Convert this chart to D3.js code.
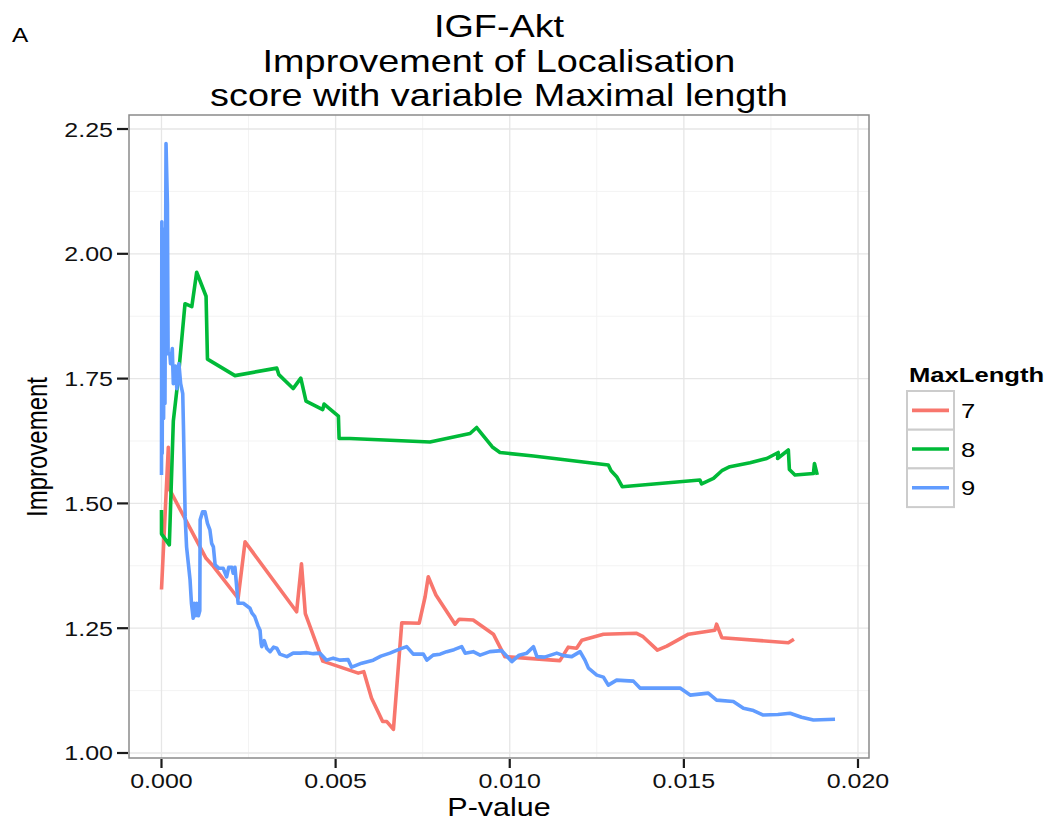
<!DOCTYPE html>
<html>
<head>
<meta charset="utf-8">
<script src="https://cdn.jsdelivr.net/npm/d3@7"></script>
<style>
  html, body { margin: 0; padding: 0; background: #fff; }
  svg { display: block; }
  text { font-family: "Liberation Sans", Arial, Helvetica, sans-serif; }
</style>
</head>
<body>
<svg id="chart" width="1053" height="823"></svg>
<script>
// ---------------- DATA ----------------
const seriesNames = ["7", "8", "9"];
const seriesColors = ["#F8766D", "#00BA38", "#619CFF"];

const xTicks = [0, 0.005, 0.010, 0.015, 0.020];
const xTickLabels = ["0.000", "0.005", "0.010", "0.015", "0.020"];
const yTicks = [1.00, 1.25, 1.50, 1.75, 2.00, 2.25];
const yTickLabels = ["1.00", "1.25", "1.50", "1.75", "2.00", "2.25"];
const xMinor = [0.0025, 0.0075, 0.0125, 0.0175];
const yMinor = [1.125, 1.375, 1.625, 1.875, 2.125];

const titleLines = ["IGF-Akt", "Improvement of Localisation", "score with variable Maximal length"];
const xTitle = "P-value";
const yTitle = "Improvement";
const legendTitle = "MaxLength";
const panelTag = "A";

// MaxLength 7 : [P-value, Improvement]
const series7 = [
  [0, 1.3275], [0.000196, 1.6125], [0.000215, 1.530], [0.00128, 1.390], [0.00149, 1.374],
  [0.00220, 1.310], [0.00240, 1.423], [0.00388, 1.283], [0.00402, 1.379], [0.00413, 1.279],
  [0.00463, 1.184], [0.00565, 1.160], [0.00581, 1.163], [0.00603, 1.110], [0.00635, 1.063],
  [0.00647, 1.063], [0.00666, 1.0475], [0.00690, 1.261], [0.00740, 1.260], [0.00757, 1.313],
  [0.00766, 1.353], [0.00788, 1.3165], [0.00843, 1.258], [0.00855, 1.268], [0.00895, 1.2665],
  [0.00953, 1.238], [0.00986, 1.193], [0.01144, 1.185], [0.01168, 1.212], [0.01192, 1.210],
  [0.01207, 1.226], [0.01269, 1.238], [0.01363, 1.240], [0.01383, 1.233], [0.01424, 1.206],
  [0.01451, 1.214], [0.01513, 1.238], [0.01589, 1.246], [0.01594, 1.258], [0.01609, 1.231],
  [0.01800, 1.221], [0.01816, 1.228]
];

// MaxLength 8
const series8 = [
  [0, 1.487], [0, 1.439], [0.000225, 1.417], [0.00034, 1.665], [0.00048, 1.751],
  [0.000675, 1.900], [0.00087, 1.894], [0.00101, 1.963], [0.00128, 1.915], [0.00132, 1.789],
  [0.00211, 1.756], [0.00331, 1.771], [0.00337, 1.758], [0.00378, 1.730], [0.00400, 1.751],
  [0.00415, 1.705], [0.00463, 1.688], [0.00467, 1.699], [0.00484, 1.689], [0.00508, 1.675],
  [0.00510, 1.630], [0.00541, 1.630], [0.00771, 1.623], [0.00886, 1.640], [0.00905, 1.652],
  [0.00950, 1.613], [0.00972, 1.602], [0.01068, 1.595], [0.01283, 1.577], [0.01291, 1.5655],
  [0.01307, 1.5535], [0.01323, 1.5335], [0.01546, 1.547], [0.01551, 1.539], [0.01585, 1.550],
  [0.01609, 1.5655], [0.01632, 1.5735], [0.01690, 1.5815], [0.01738, 1.590], [0.01771, 1.602],
  [0.01769, 1.590], [0.01800, 1.607], [0.01803, 1.568], [0.01819, 1.557], [0.01872, 1.560],
  [0.01875, 1.580], [0.01883, 1.557]
];

// MaxLength 9
const series9 = [
  [0, 1.557], [0.00001, 2.064], [0.00002, 1.600], [0.00004, 2.050], [0.00006, 1.670],
  [0.00008, 1.900], [0.00010, 1.700], [0.00013, 2.221], [0.00017, 2.100], [0.00019, 1.800],
  [0.00024, 1.800], [0.00026, 1.780], [0.00031, 1.810], [0.00034, 1.740], [0.00040, 1.775],
  [0.00044, 1.730], [0.00050, 1.780], [0.00055, 1.740], [0.00061, 1.720], [0.00063, 1.656],
  [0.00068, 1.473], [0.00072, 1.413], [0.00077, 1.380], [0.00082, 1.347], [0.00086, 1.300],
  [0.00091, 1.270], [0.00094, 1.300], [0.00098, 1.275], [0.00101, 1.300], [0.00106, 1.275],
  [0.00110, 1.285], [0.00111, 1.467], [0.00118, 1.483], [0.00125, 1.483], [0.00132, 1.460],
  [0.00139, 1.447], [0.00144, 1.420], [0.00149, 1.413], [0.00154, 1.377], [0.00165, 1.370],
  [0.00177, 1.370], [0.00187, 1.353], [0.00193, 1.372], [0.00202, 1.372], [0.00206, 1.360],
  [0.00211, 1.372], [0.00215, 1.340], [0.00220, 1.300], [0.00235, 1.300], [0.00254, 1.290],
  [0.00260, 1.280], [0.00268, 1.273], [0.00277, 1.255], [0.00283, 1.246], [0.00286, 1.220],
  [0.00288, 1.213], [0.00295, 1.225], [0.00302, 1.210], [0.00312, 1.203], [0.00322, 1.212],
  [0.00331, 1.210], [0.00340, 1.198], [0.00360, 1.193], [0.00378, 1.200], [0.00398, 1.200],
  [0.00417, 1.201], [0.00436, 1.199], [0.00455, 1.200], [0.00474, 1.186], [0.00493, 1.190],
  [0.00513, 1.186], [0.00536, 1.187], [0.00546, 1.172], [0.00575, 1.180], [0.00608, 1.186],
  [0.00630, 1.194], [0.00656, 1.200], [0.00680, 1.207], [0.00704, 1.213], [0.00723, 1.198],
  [0.00752, 1.198], [0.00762, 1.186], [0.00780, 1.196], [0.00800, 1.198], [0.00819, 1.203],
  [0.00840, 1.207], [0.00862, 1.213], [0.00872, 1.200], [0.00895, 1.203], [0.00915, 1.196],
  [0.00943, 1.203], [0.00977, 1.205], [0.01006, 1.183], [0.01027, 1.196], [0.01049, 1.200],
  [0.01068, 1.213], [0.01078, 1.193], [0.01100, 1.192], [0.01135, 1.200], [0.01155, 1.195],
  [0.01178, 1.193], [0.01202, 1.203], [0.01216, 1.186], [0.01226, 1.170], [0.01250, 1.156],
  [0.01269, 1.152], [0.01283, 1.136], [0.01307, 1.146], [0.01330, 1.145], [0.01355, 1.144],
  [0.01374, 1.130], [0.01431, 1.130], [0.01489, 1.130], [0.01518, 1.116], [0.01570, 1.120],
  [0.01594, 1.106], [0.01642, 1.103], [0.01671, 1.0895], [0.01700, 1.085], [0.01728, 1.076],
  [0.01770, 1.077], [0.01805, 1.0795], [0.01838, 1.0715], [0.01872, 1.066], [0.01934, 1.0675]
];

const allSeries = [series7, series8, series9];

// ---------------- LAYOUT ----------------
const SX = 1.22; // horizontal stretch of the original figure's text
const panel = { left: 129, right: 869, top: 115, bottom: 758 };

const svg = d3.select("#chart");

const x = d3.scaleLinear().domain([-0.000933, 0.020316]).range([panel.left, panel.right]);
const y = d3.scaleLinear().domain([0.98998, 2.27806]).range([panel.bottom, panel.top]);

function stext(g, px, py, str, opts) {
  const t = g.append("text")
    .attr("transform", `translate(${px},${py}) scale(${SX},1)` + (opts.rotate ? ` rotate(${opts.rotate})` : ""))
    .attr("text-anchor", opts.anchor || "start")
    .attr("font-size", opts.size)
    .attr("fill", opts.fill || "#000")
    .text(str);
  if (opts.bold) t.attr("font-weight", "bold");
  return t;
}

// panel background
svg.append("rect")
  .attr("x", panel.left).attr("y", panel.top)
  .attr("width", panel.right - panel.left).attr("height", panel.bottom - panel.top)
  .attr("fill", "#fff");

// grid
const grid = svg.append("g");
grid.selectAll(".xminor").data(xMinor).join("line")
  .attr("x1", d => x(d)).attr("x2", d => x(d))
  .attr("y1", panel.top).attr("y2", panel.bottom)
  .attr("stroke", "#f3f3f3").attr("stroke-width", 1);
grid.selectAll(".yminor").data(yMinor).join("line")
  .attr("y1", d => y(d)).attr("y2", d => y(d))
  .attr("x1", panel.left).attr("x2", panel.right)
  .attr("stroke", "#f3f3f3").attr("stroke-width", 1);
grid.selectAll(".xmajor").data(xTicks).join("line")
  .attr("x1", d => x(d)).attr("x2", d => x(d))
  .attr("y1", panel.top).attr("y2", panel.bottom)
  .attr("stroke", "#e6e6e6").attr("stroke-width", 1.3);
grid.selectAll(".ymajor").data(yTicks).join("line")
  .attr("y1", d => y(d)).attr("y2", d => y(d))
  .attr("x1", panel.left).attr("x2", panel.right)
  .attr("stroke", "#e6e6e6").attr("stroke-width", 1.3);

// lines
const line = d3.line().x(d => x(d[0])).y(d => y(d[1]));
const linesG = svg.append("g");
allSeries.forEach((s, i) => {
  linesG.append("path")
    .datum(s)
    .attr("d", line)
    .attr("fill", "none")
    .attr("stroke", seriesColors[i])
    .attr("stroke-width", 3.6)
    .attr("stroke-linejoin", "round")
    .attr("stroke-linecap", "butt");
});

// panel border
svg.append("rect")
  .attr("x", panel.left).attr("y", panel.top)
  .attr("width", panel.right - panel.left).attr("height", panel.bottom - panel.top)
  .attr("fill", "none").attr("stroke", "#8a8a8a").attr("stroke-width", 1.5);

// axes ticks
const axG = svg.append("g");
axG.selectAll(".xt").data(xTicks).join("line")
  .attr("x1", d => x(d)).attr("x2", d => x(d))
  .attr("y1", panel.bottom + 1).attr("y2", panel.bottom + 10)
  .attr("stroke", "#1a1a1a").attr("stroke-width", 2.2);
axG.selectAll(".yt").data(yTicks).join("line")
  .attr("y1", d => y(d)).attr("y2", d => y(d))
  .attr("x1", panel.left - 12).attr("x2", panel.left - 1)
  .attr("stroke", "#1a1a1a").attr("stroke-width", 2.2);

xTicks.forEach((v, i) => {
  stext(axG, x(v), 788, xTickLabels[i], { anchor: "middle", size: 20.5, fill: "#111" });
});
yTicks.forEach((v, i) => {
  stext(axG, 113, y(v) + 7.5, yTickLabels[i], { anchor: "end", size: 20.5, fill: "#111" });
});

// axis titles
stext(svg, (panel.left + panel.right) / 2, 816, xTitle, { anchor: "middle", size: 25 });
stext(svg, 47, 447, yTitle, { anchor: "middle", size: 24, rotate: -90 });

// title
const titleY = [37, 72, 106];
titleLines.forEach((t, i) => {
  stext(svg, (panel.left + panel.right) / 2, titleY[i], t, { anchor: "middle", size: 31 });
});

// panel tag
stext(svg, 12, 42, panelTag, { anchor: "start", size: 20 });

// legend
const lg = svg.append("g");
stext(lg, 909, 382, legendTitle, { anchor: "start", size: 21, bold: true });
const keyTop = 391, keyH = 38.7, keyX = 907, keyW = 47;
seriesNames.forEach((name, i) => {
  const ky = keyTop + i * keyH;
  lg.append("rect")
    .attr("x", keyX).attr("y", ky).attr("width", keyW).attr("height", keyH)
    .attr("fill", "#fff").attr("stroke", "#cccccc").attr("stroke-width", 2);
  lg.append("line")
    .attr("x1", keyX + 5).attr("x2", keyX + keyW - 5)
    .attr("y1", ky + keyH / 2).attr("y2", ky + keyH / 2)
    .attr("stroke", seriesColors[i]).attr("stroke-width", 3.6);
  stext(lg, 961, ky + keyH / 2 + 7.5, name, { anchor: "start", size: 21 });
});
</script>
</body>
</html>
